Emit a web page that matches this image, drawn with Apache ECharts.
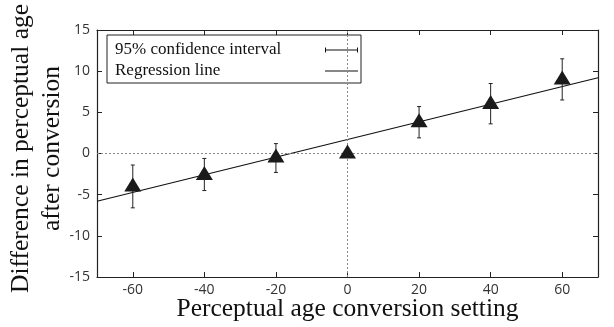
<!DOCTYPE html>
<html>
<head>
<meta charset="utf-8">
<script src="https://cdn.jsdelivr.net/npm/echarts@6/dist/echarts.min.js"></script>
<style>
html,body{margin:0;padding:0;background:#fff;}
#c{width:614px;height:327px;}
</style>
</head>
<body>
<div id="c"></div>
<script>
var settings = [-60, -40, -20, 0, 20, 40, 60];
var means    = [-4.0, -2.6, -0.5, 0.0, 3.8, 6.0, 9.0];
var ciLow    = [-6.6, -4.5, -2.3, 0.0, 1.9, 3.6, 6.5];
var ciHigh   = [-1.4, -0.6, 1.2, 0.0, 5.7, 8.5, 11.5];
var regX     = [-70, 70];
var regY     = [-5.8, 9.2];
var xTicks   = [-60, -40, -20, 0, 20, 40, 60];

var chart = echarts.init(document.getElementById('c'));
var pts = settings.map(function (x, i) { return [x, means[i]]; });
var bars = settings.map(function (x, i) { return [x, ciLow[i], ciHigh[i]]; });
var reg = regX.map(function (x, i) { return [x, regY[i]]; });

var tickFont = { fontFamily: 'Open Sans', fontSize: 14, color: '#333' };
var serif = 'Liberation Serif';
var axLine = { show: true, onZero: false, lineStyle: { color: '#222', width: 1.2 } };

chart.setOption({
  animation: false,
  grid: { left: 97, right: 16, top: 30, bottom: 50, containLabel: false, outerBoundsMode: 'none' },
  legend: {
    left: 107, top: 35,
    orient: 'vertical',
    align: 'right',
    itemWidth: 33, itemHeight: 5, itemGap: 1,
    padding: [5, 3, 2, 8],
    borderColor: '#222', borderWidth: 1,
    formatter: '{t|{name}}',
    textStyle: {
      fontFamily: serif, fontSize: 17, color: '#111', lineHeight: 20,
      rich: { t: { width: 205, align: 'left', fontFamily: serif, fontSize: 17, color: '#111', lineHeight: 20 } }
    },
    itemStyle: { color: '#111', borderWidth: 0 },
    data: [
      { name: '95% confidence interval', icon: 'path://M0,2 H33 V3 H0 Z M0,0 H1 V5 H0 Z M32,0 H33 V5 H32 Z' },
      { name: 'Regression line', icon: 'path://M0,2 H33 V3 H0 Z M0,0 L0.01,0 L0,0.01 Z M0,5 L0.01,5 L0,4.99 Z' }
    ]
  },
  xAxis: [{
    type: 'value', min: -70, max: 70, position: 'bottom',
    name: 'Perceptual age conversion setting', nameLocation: 'middle', nameGap: 19,
    nameMoveOverlap: false,
    nameTextStyle: { fontFamily: serif, fontSize: 25.5, color: '#111' },
    axisLine: axLine,
    axisTick: { inside: true, length: 5, customValues: xTicks, lineStyle: { color: '#222' } },
    axisLabel: Object.assign({ customValues: xTicks, margin: 6 }, tickFont),
    splitLine: { show: false }
  }, {
    type: 'value', min: -70, max: 70, position: 'top',
    axisLine: axLine,
    axisTick: { inside: true, length: 5, customValues: xTicks, lineStyle: { color: '#222' } },
    axisLabel: { show: false },
    splitLine: { show: false }
  }],
  yAxis: [{
    type: 'value', min: -15, max: 15, interval: 5, position: 'left',
    name: 'Difference in perceptual age\nafter conversion', nameLocation: 'middle', nameGap: 29,
    nameRotate: 90, nameMoveOverlap: false,
    nameTextStyle: { fontFamily: serif, fontSize: 25.5, color: '#111', lineHeight: 31, padding: [0, 0, 0, 10] },
    axisLine: axLine,
    axisTick: { show: true, inside: true, length: 5, lineStyle: { color: '#222' } },
    axisLabel: Object.assign({ margin: 7 }, tickFont),
    splitLine: { show: false }
  }, {
    type: 'value', min: -15, max: 15, interval: 5, position: 'right',
    axisLine: axLine,
    axisTick: { show: true, inside: true, length: 5, lineStyle: { color: '#222' } },
    axisLabel: { show: false },
    splitLine: { show: false }
  }],
  series: [{
    name: 'Regression line',
    type: 'line',
    data: reg,
    symbol: 'none',
    lineStyle: { color: '#111', width: 1.2 },
    itemStyle: { color: '#111' },
    markLine: {
      silent: true, symbol: 'none', label: { show: false },
      lineStyle: { color: '#888', type: [2, 2], width: 1 },
      data: [{ xAxis: 0 }, { yAxis: 0 }]
    },
    z: 3
  }, {
    name: '95% confidence interval',
    type: 'custom',
    data: bars,
    itemStyle: { color: '#111' },
    renderItem: function (params, api) {
      var x = api.value(0);
      var lo = api.coord([x, api.value(1)]);
      var hi = api.coord([x, api.value(2)]);
      var cw = 2;
      var st = { stroke: '#222', lineWidth: 1 };
      return {
        type: 'group',
        children: [
          { type: 'line', shape: { x1: lo[0], y1: lo[1], x2: hi[0], y2: hi[1] }, style: st },
          { type: 'line', shape: { x1: lo[0] - cw, y1: lo[1], x2: lo[0] + cw, y2: lo[1] }, style: st },
          { type: 'line', shape: { x1: hi[0] - cw, y1: hi[1], x2: hi[0] + cw, y2: hi[1] }, style: st }
        ]
      };
    },
    z: 4
  }, {
    name: 'means',
    type: 'scatter',
    data: pts,
    symbol: 'triangle',
    symbolSize: [17, 14],
    symbolOffset: [0, -2],
    itemStyle: { color: '#1a1a1a', opacity: 1 },
    z: 5
  }]
});
</script>
</body>
</html>
